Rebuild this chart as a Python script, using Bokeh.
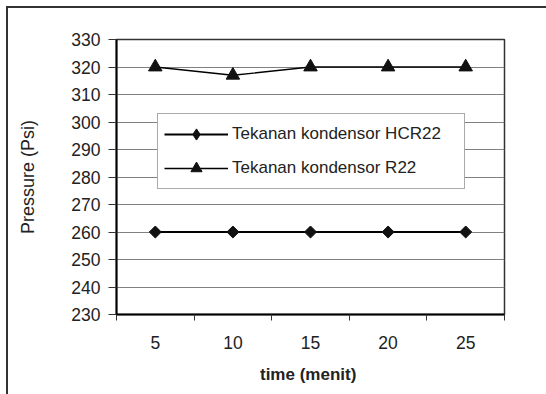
from bokeh.plotting import figure
from bokeh.models import (FixedTicker, Legend, LegendItem, Range1d)
from bokeh.embed import file_html
from bokeh.resources import INLINE

times = [5, 10, 15, 20, 25]
hcr22 = [260, 260, 260, 260, 260]
r22 = [320, 317, 320, 320, 320]
y_ticks = [230, 240, 250, 260, 270, 280, 290, 300, 310, 320, 330]
x_bounds = [2.5, 7.5, 12.5, 17.5, 22.5, 27.5]
name_hcr = "Tekanan kondensor HCR22"
name_r22 = "Tekanan kondensor R22"

FONT = "Liberation Sans"

p = figure(width=546, height=394, output_backend="svg", toolbar_location=None,
           x_range=Range1d(2.5, 27.5), y_range=Range1d(230, 330),
           min_border_left=116, min_border_right=42, min_border_top=39, min_border_bottom=80,
           frame_width=388, frame_height=275)
p.background_fill_color = "white"
p.border_fill_color = None
p.outline_line_color = "#333333"
p.outline_line_width = 1.5
# outer picture frame (top and left edges), drawn behind the transparent border area
p.styles = {
    "background": "linear-gradient(#333333, #333333) 6px 6px / 2px 100% no-repeat, "
                  "linear-gradient(#333333, #333333) 6px 6px / 100% 2px no-repeat, white"
}

# grid
p.xgrid.visible = False
p.ygrid.ticker = FixedTicker(ticks=y_ticks)
p.ygrid.grid_line_color = "#808080"
p.ygrid.grid_line_width = 1

# y axis
ya = p.yaxis[0]
ya.ticker = FixedTicker(ticks=y_ticks)
ya.axis_line_color = "black"
ya.axis_line_width = 2
ya.major_tick_out = 8
ya.major_tick_in = 0
ya.major_tick_line_color = "#333333"
ya.minor_tick_line_color = None
ya.major_label_text_font = FONT
ya.major_label_text_font_size = "17.5px"
ya.major_label_text_color = "#222222"
ya.major_label_standoff = 8
ya.axis_label = "Pressure (Psi)"
ya.axis_label_text_font = FONT
ya.axis_label_text_font_size = "18px"
ya.axis_label_text_font_style = "normal"
ya.axis_label_text_color = "#222222"
ya.axis_label_standoff = 30

# x axis
xa = p.xaxis[0]
xa.ticker = FixedTicker(ticks=times, minor_ticks=x_bounds)
xa.axis_line_color = "black"
xa.axis_line_width = 2
xa.major_tick_out = 0
xa.major_tick_in = 0
xa.major_tick_line_color = None
xa.minor_tick_out = 6
xa.minor_tick_in = 0
xa.minor_tick_line_color = "#333333"
xa.major_label_text_font = FONT
xa.major_label_text_font_size = "17.5px"
xa.major_label_text_color = "#222222"
xa.major_label_standoff = 15
xa.axis_label = "time  (menit)"
xa.axis_label_text_font = FONT
xa.axis_label_text_font_size = "17px"
xa.axis_label_text_font_style = "bold"
xa.axis_label_text_color = "#222222"
xa.axis_label_standoff = 13

# series
l1 = p.line(times, hcr22, line_color="black", line_width=2)
m1 = p.scatter(times, hcr22, marker="square", angle=0.785398, size=8.5,
               fill_color="#111111", line_color="#111111")
l2 = p.line(times, r22, line_color="black", line_width=1.3)
m2 = p.scatter(times, r22, marker="triangle", size=13.5,
               fill_color="#111111", line_color="#111111")
# legend-only diamond (the legend ignores marker rotation)
m1_leg = p.scatter(times, hcr22, marker="diamond", size=12,
                   fill_color="#111111", line_color="#111111", visible=False)

legend = Legend(items=[LegendItem(label=name_hcr, renderers=[l1, m1_leg]),
                       LegendItem(label=name_r22, renderers=[l2, m2])],
                location=(41, 125))
legend.label_text_font = FONT
legend.label_text_font_size = "17px"
legend.label_text_color = "#222222"
legend.label_width = 226
legend.label_height = 28
legend.glyph_width = 64
legend.glyph_height = 28
legend.label_standoff = 4
legend.padding = 6
legend.spacing = 6
legend.border_line_color = "#555555"
legend.border_line_width = 1
legend.background_fill_color = "white"
legend.background_fill_alpha = 1
legend.click_policy = "none"
p.add_layout(legend, "center")

open("out.html", "w").write(file_html(p, INLINE))
